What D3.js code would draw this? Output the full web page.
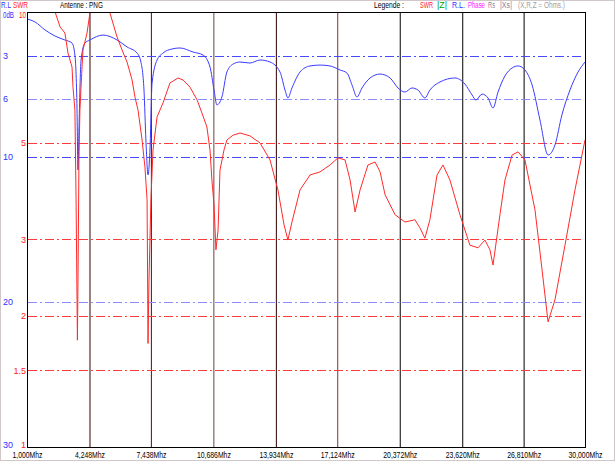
<!DOCTYPE html>
<html><head><meta charset="utf-8">
<script src="https://cdn.jsdelivr.net/npm/d3@7/dist/d3.min.js"></script>
<style>
html,body{margin:0;padding:0;background:#fff;}
svg{display:block;}
text{font-family:"Liberation Sans",Arial,sans-serif;}
</style></head>
<body><svg id="c" width="615" height="461"></svg>
<script>
// ---- data ----
const freqTicks = [1.000, 4.248, 7.438, 10.686, 13.934, 17.124, 20.372, 23.620, 26.810, 30.000];
const freqLabels = ["1,000Mhz","4,248Mhz","7,438Mhz","10,686Mhz","13,934Mhz","17,124Mhz","20,372Mhz","23,620Mhz","26,810Mhz","30,000Mhz"];
const rlTicks = [3, 6, 10, 20, 30];
const rlGrid = [3, 6, 10, 20];
const swrTicks = [5, 3, 2, 1.5, 1];
const swrGrid = [5, 3, 2, 1.5];

const rlFreq = [1.00,1.42,1.94,2.46,2.97,3.34,3.49,3.60,3.65,3.70,3.81,4.01,4.27,4.95,5.68,6.20,6.72,6.92,7.08,7.18,7.29,7.39,7.50,7.76,8.07,8.54,8.95,9.63,10.15,10.51,10.72,10.87,11.13,11.39,11.71,12.07,12.59,13.11,13.63,14.15,14.41,14.56,14.77,15.19,15.71,16.23,16.75,17.27,17.63,17.89,18.15,18.41,18.83,19.35,19.87,20.28,20.64,21.01,21.32,21.68,21.94,22.46,23.24,23.76,24.13,24.33,24.65,24.96,25.22,25.48,25.84,26.21,26.52,26.88,27.25,27.66,28.08,28.44,28.80,29.22,29.64,30.00];
const rlDb = [0.48,0.69,1.24,1.66,1.93,2.14,2.97,6.76,10.9,8.14,3.31,2.14,1.93,1.59,1.93,2.41,2.83,3.45,5.38,8.83,11.24,9.52,4.90,3.31,2.83,2.55,2.48,2.76,2.97,3.79,5.38,6.41,5.86,4.14,3.59,3.45,3.52,3.31,3.45,4.14,5.38,5.93,5.24,4.14,3.72,3.66,3.72,4.00,4.21,5.03,5.86,5.24,4.55,4.28,4.55,5.24,5.52,5.24,5.38,5.93,5.38,4.83,4.55,4.97,5.72,6.07,5.66,5.93,6.62,5.52,4.41,3.86,3.72,4.00,5.03,7.45,9.86,9.17,7.10,5.38,4.14,3.45];

const swrFreq = [2.30,2.46,2.72,2.97,3.13,3.34,3.39,3.49,3.55,3.60,3.62,3.65,3.70,3.75,3.86,3.91,4.12,4.27,4.38,5.05,5.31,5.68,5.94,6.20,6.46,6.61,6.77,6.98,7.13,7.24,7.29,7.34,7.44,7.55,7.76,8.07,8.43,8.85,9.11,9.47,9.84,10.09,10.35,10.51,10.61,10.72,10.82,10.93,11.03,11.24,11.39,11.71,12.07,12.59,13.11,13.63,14.04,14.36,14.56,14.77,15.19,15.71,16.23,16.75,17.16,17.53,17.79,18.05,18.31,18.72,19.09,19.35,19.61,20.13,20.64,21.16,21.42,21.68,21.94,22.31,22.62,22.98,23.50,24.02,24.44,24.80,25.06,25.22,25.58,25.84,26.21,26.52,26.88,27.40,27.77,28.08,28.44,28.96,29.48,30.00];
const swrVal = [10.66,10.0,9.24,8.95,8.05,7.47,6.72,5.95,3.70,2.18,1.76,2.42,4.57,5.95,7.47,8.18,8.95,9.95,10.66,10.9,9.95,8.76,8.18,7.67,6.98,6.38,5.95,5.08,4.40,3.70,1.73,2.42,3.70,4.82,5.74,6.18,6.87,7.05,6.98,6.72,6.28,5.86,5.44,4.82,4.11,3.60,2.84,3.15,4.33,4.82,5.08,5.21,5.27,5.19,5.00,4.57,3.90,3.24,2.99,3.29,3.90,4.22,4.29,4.45,4.62,4.57,4.11,3.47,3.90,4.45,4.52,4.29,3.80,3.42,3.29,3.33,3.19,3.02,3.33,4.22,4.45,4.11,3.42,2.91,2.87,2.99,2.84,2.62,3.42,4.11,4.69,4.77,4.57,3.51,2.55,1.94,2.18,2.91,3.90,5.08];

const headerTexts = ["R.L","SWR","0dB","10","Antenne : PNG","Legende :"];
const legendTexts = ["SWR","|Z|","R.L.","Phase","Rs","|Xs|","(X,R,Z = Ohms.)"];

// ---- styles / layout ----
const vColors = ["#000","#3a0000","#700000","#704040","#300000","#803030","#000","#000","#000","#000"];
const BLUE = "#3c3cff", RED = "#ff2a2a";
const headerPos = [[1,8,10,"#3030ff"],[13,8,15,"#ff2020"],[3,18,11,"#3030ff"],[19,18,7,"#ff2020"],[60,8,43,"#000"],[374,8,30,"#000"]];
const legendPos = [[420,13,"#ff2020"],[437,10,"#00a000"],[452,13,"#3030ff"],[468,17,"#ff20ff"],[488,7,"#9080a0"],[500,12,"#9080a0"],[518,47,"#a0a0a0"]];

const svg = d3.select("#c");
const L = 27, R = 585, T = 12, B = 447;
const x = d3.scaleLinear().domain([1,30]).range([L,R]);
const yRL = d3.scaleLinear().domain([0,30]).range([T,B]);
const ySWR = d3.scaleLog().domain([1,10]).range([B,T]);

// place text at (x0,y0) squeezed horizontally to width w
function fit(sel, x0, y0, w){
  sel.attr("x",0).attr("y",0);
  const nat = sel.node().getComputedTextLength() || w;
  sel.attr("transform",`translate(${x0},${y0}) scale(${Math.min(1,w/nat)},1)`);
}

// outer frame
svg.append("rect").attr("x",0.5).attr("y",0.5).attr("width",614).attr("height",460)
  .attr("fill","#fff").attr("stroke","#a09090").attr("stroke-dasharray","1,1");

// vertical grid via bottom axis
const xAxis = svg.append("g").attr("transform",`translate(0,${B})`)
  .call(d3.axisBottom(x).tickValues(freqTicks).tickFormat((d,i)=>freqLabels[i]).tickSize(-(B-T)).tickPadding(4));
xAxis.select(".domain").remove();
xAxis.selectAll(".tick line").attr("stroke",(d,i)=>vColors[i]).attr("stroke-width",1);
xAxis.selectAll(".tick text").attr("font-size","9px").attr("fill","#000").attr("dy",null)
  .each(function(d,i){
    const t = d3.select(this); const w = freqLabels[i].length>8?34:30;
    const nat = this.getComputedTextLength();
    t.attr("y",0).attr("transform",`translate(0,10.5) scale(${w/nat},1)`);
  });

// horizontal grid lines
const dash = "9,3,2,3";
svg.append("g").selectAll("line").data(rlGrid).join("line")
  .attr("x1",L+1).attr("x2",R-1).attr("y1",d=>Math.round(yRL(d))+0.5).attr("y2",d=>Math.round(yRL(d))+0.5)
  .attr("stroke",d=>d===6||d===20?"#8c8cff":"#4848ff").attr("stroke-dasharray",dash);
svg.append("g").selectAll("line").data(swrGrid).join("line")
  .attr("x1",L+1).attr("x2",R-1).attr("y1",d=>Math.round(ySWR(d))+0.5).attr("y2",d=>Math.round(ySWR(d))+0.5)
  .attr("stroke","#ff3c3c").attr("stroke-dasharray",dash);

// plot box
svg.append("rect").attr("x",L+0.5).attr("y",T+0.5).attr("width",R-L).attr("height",B-T)
  .attr("fill","none").attr("stroke","#000");

// left axes labels
const rlAxis = svg.append("g").attr("transform","translate(3,0)")
  .call(d3.axisRight(yRL).tickValues(rlTicks).tickSize(0).tickPadding(0));
rlAxis.select(".domain").remove();
rlAxis.selectAll("text").attr("font-size","9px").attr("fill","#3030ff");
const swrAxis = svg.append("g").attr("transform","translate(26,0)")
  .call(d3.axisLeft(ySWR).tickValues(swrTicks).tickFormat(d3.format("")).tickSize(0).tickPadding(0));
swrAxis.select(".domain").remove();
swrAxis.selectAll("text").attr("font-size","9px").attr("fill","#ff2020");
rlAxis.selectAll(".tick").filter(d=>d===30).select("text").attr("dy","0.0em");
swrAxis.selectAll(".tick").filter(d=>d===1).select("text").attr("dy","0.0em");

// header texts
const hdr = svg.append("g").attr("font-size","9px");
hdr.selectAll(".hd").data(headerTexts).join("text").attr("class","hd")
  .attr("fill",(d,i)=>headerPos[i][3]).text(d=>d)
  .each(function(d,i){ fit(d3.select(this), headerPos[i][0], headerPos[i][1], headerPos[i][2]); });
hdr.selectAll(".lg").data(legendTexts).join("text").attr("class","lg")
  .attr("fill",(d,i)=>legendPos[i][2]).text(d=>d)
  .each(function(d,i){ fit(d3.select(this), legendPos[i][0], 8, legendPos[i][1]); });

// clip
svg.append("clipPath").attr("id","pc").append("rect").attr("x",L+1).attr("y",T+1).attr("width",R-L-1).attr("height",B-T-1);
const plot = svg.append("g").attr("clip-path","url(#pc)");

const rlLine = d3.line().x((d,i)=>x(rlFreq[i])).y(d=>yRL(d)).curve(d3.curveMonotoneX);
plot.append("path").attr("d",rlLine(rlDb)).attr("fill","none").attr("stroke",BLUE).attr("stroke-width",1);

const swrLine = d3.line().x((d,i)=>x(swrFreq[i])).y(d=>ySWR(d)).curve(d3.curveLinear);
plot.append("path").attr("d",swrLine(swrVal)).attr("fill","none").attr("stroke",RED).attr("stroke-width",1);
</script></body></html>
